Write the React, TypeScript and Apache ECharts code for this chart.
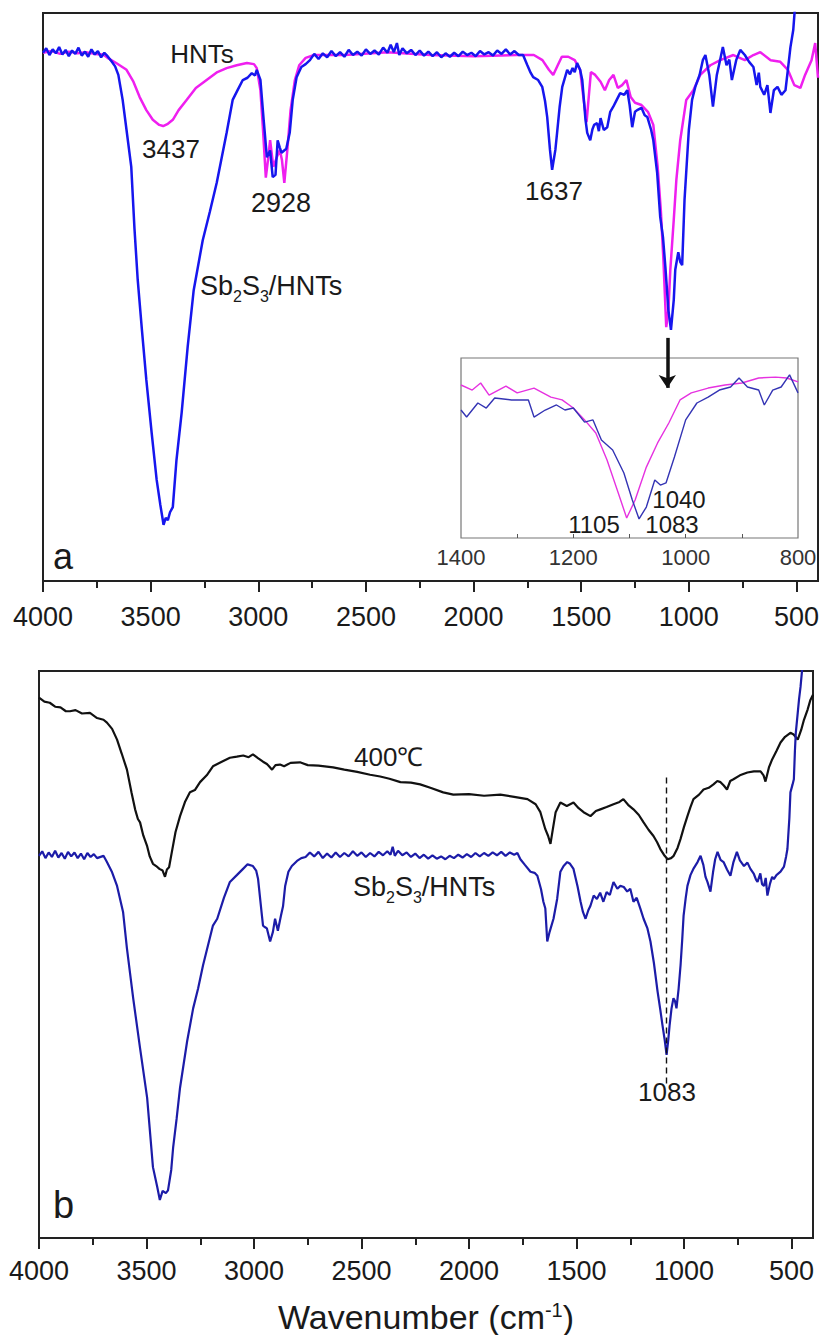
import React, { useEffect, useRef } from "react";
import * as echarts from "echarts";

type P = [number, number];

// ---------- axis ticks ----------
const majorTicks = [500, 1000, 1500, 2000, 2500, 3000, 3500, 4000];
const minorTicks = [750, 1250, 1750, 2250, 2750, 3250, 3750];
const insetTicks = [900, 1000, 1100, 1200, 1300];
const insetLabels = [800, 1000, 1200, 1400];

// ---------- panel a: HNTs (magenta) ----------
const hntsA: P[] = [
  [4000, 93.0], [3960, 93.3], [3920, 92.8], [3880, 93.2], [3840, 92.9], [3800, 93.1], [3760, 92.8], [3720, 92.7],
  [3700, 92.1], [3660, 91.2], [3612, 90.0], [3580, 87.9], [3551, 85.2], [3520, 82.9], [3490, 81.2], [3460, 80.3],
  [3442, 80.1], [3420, 80.5], [3397, 81.2], [3370, 82.9], [3333, 84.7], [3290, 86.8], [3240, 88.2], [3190, 89.6],
  [3147, 90.3], [3100, 90.8], [3053, 91.2], [3020, 91.0], [3007, 90.3], [2990, 86.4], [2978, 79.4], [2965, 71.0],
  [2955, 74.1], [2945, 77.6], [2930, 72.9], [2915, 74.5], [2900, 75.9], [2890, 74.1], [2879, 70.1], [2865, 75.9],
  [2850, 82.9], [2830, 88.2], [2810, 90.8], [2780, 92.1], [2740, 92.6], [2600, 92.6], [2400, 93.1], [2200, 92.6],
  [2000, 92.4], [1800, 92.6], [1720, 92.6], [1680, 91.7], [1650, 90.0], [1630, 89.1], [1610, 90.7], [1590, 92.3],
  [1560, 92.3], [1530, 91.7], [1505, 90.0], [1490, 85.2], [1475, 80.8], [1465, 85.2], [1455, 89.6], [1435, 89.1],
  [1410, 87.9], [1390, 86.4], [1370, 88.2], [1350, 89.1], [1330, 86.8], [1310, 87.3], [1290, 88.2], [1270, 85.2],
  [1250, 84.2], [1220, 83.8], [1190, 82.6], [1165, 80.3], [1145, 73.0], [1130, 65.2], [1118, 56.5], [1105, 44.7],
  [1095, 47.7], [1086, 54.8], [1070, 63.6], [1058, 70.6], [1040, 77.6], [1012, 84.7], [979, 86.4], [947, 89.1],
  [900, 90.8], [854, 91.7], [793, 92.6], [740, 91.7], [700, 92.6], [668, 93.1], [620, 91.7], [575, 91.4],
  [540, 90.0], [510, 87.3], [482, 86.8], [460, 89.1], [430, 91.7], [413, 94.7], [400, 88.6],
];

// ---------- panel a: Sb2S3/HNTs (blue) ----------
const sbHntsA: P[] = [
  [4000, 93.0], [3985, 93.8], [3970, 92.6], [3955, 93.6], [3940, 92.9], [3925, 94.0], [3910, 92.7], [3895, 93.5],
  [3880, 92.4], [3865, 93.4], [3850, 92.8], [3835, 93.9], [3820, 92.5], [3805, 93.2], [3790, 92.3], [3775, 93.6],
  [3760, 92.7], [3745, 93.3], [3730, 92.2], [3715, 93.0], [3700, 92.4], [3680, 91.4], [3665, 90.6], [3650, 89.1],
  [3630, 84.7], [3612, 79.4], [3590, 72.9], [3575, 62.0], [3560, 53.0], [3540, 44.0], [3520, 35.4], [3495, 26.0],
  [3472, 17.8], [3455, 13.4], [3440, 9.9], [3430, 11.1], [3420, 10.7], [3410, 12.1], [3397, 13.0], [3380, 21.3],
  [3356, 29.6], [3328, 41.2], [3300, 51.2], [3258, 60.0], [3225, 65.0], [3193, 70.1], [3170, 74.5], [3147, 78.9],
  [3119, 84.7], [3095, 86.5], [3072, 88.2], [3050, 88.6], [3030, 89.4], [3015, 89.0], [3007, 90.0], [2990, 88.2],
  [2975, 81.2], [2960, 74.6], [2945, 75.8], [2933, 71.1], [2920, 71.5], [2910, 77.6], [2900, 76.3], [2892, 75.4],
  [2870, 76.1], [2854, 78.9], [2840, 84.7], [2822, 88.7], [2800, 90.5], [2780, 91.0], [2760, 91.7], [2740, 92.8],
  [2720, 91.9], [2700, 92.9], [2680, 92.2], [2660, 93.3], [2640, 92.4], [2620, 93.1], [2600, 92.3], [2580, 93.5],
  [2560, 92.6], [2540, 93.2], [2520, 92.5], [2500, 93.6], [2480, 92.8], [2460, 93.4], [2440, 92.7], [2420, 93.9],
  [2400, 93.0], [2385, 94.4], [2370, 93.1], [2356, 94.7], [2345, 92.6], [2330, 93.8], [2310, 92.9], [2290, 93.5],
  [2270, 92.6], [2250, 93.4], [2230, 92.5], [2210, 93.2], [2190, 92.4], [2170, 93.1], [2150, 92.2], [2130, 92.9],
  [2110, 92.3], [2090, 93.0], [2070, 92.4], [2050, 93.2], [2030, 92.6], [2010, 93.0], [1990, 92.4], [1970, 93.3],
  [1950, 92.7], [1930, 93.1], [1910, 92.5], [1890, 93.4], [1870, 92.8], [1850, 93.6], [1830, 92.7], [1810, 93.3],
  [1790, 92.6], [1770, 92.6], [1750, 90.8], [1735, 89.5], [1723, 88.7], [1700, 88.2], [1681, 87.0], [1668, 84.5],
  [1658, 81.7], [1645, 75.9], [1635, 72.4], [1620, 75.9], [1612, 78.9], [1600, 83.5], [1588, 87.0], [1565, 90.0],
  [1552, 89.2], [1540, 90.3], [1530, 89.6], [1519, 91.2], [1505, 90.0], [1495, 88.2], [1480, 81.2], [1472, 78.9],
  [1458, 77.6], [1448, 79.5], [1440, 80.3], [1426, 80.6], [1418, 79.2], [1410, 81.5], [1395, 79.4], [1379, 79.9],
  [1365, 82.6], [1351, 83.5], [1335, 84.7], [1319, 85.9], [1300, 85.6], [1286, 86.4], [1275, 83.8], [1263, 79.9],
  [1250, 82.6], [1240, 82.9], [1220, 83.3], [1205, 82.0], [1193, 81.7], [1175, 79.4], [1165, 77.6], [1147, 71.8],
  [1133, 64.1], [1120, 60.5], [1109, 55.3], [1095, 47.7], [1083, 44.2], [1070, 49.5], [1063, 54.8], [1049, 57.9],
  [1040, 56.2], [1031, 55.6], [1020, 67.1], [1000, 79.4], [985, 84.7], [970, 87.0], [950, 89.1], [935, 91.7],
  [923, 92.6], [905, 89.1], [888, 83.5], [870, 89.1], [855, 91.7], [842, 94.0], [825, 90.8], [812, 91.8],
  [800, 88.2], [780, 91.7], [761, 93.5], [740, 92.6], [720, 91.4], [700, 90.5], [685, 87.3], [675, 89.5],
  [668, 87.0], [650, 85.6], [635, 87.3], [621, 82.4], [605, 86.4], [588, 87.0], [570, 85.6], [551, 86.4],
  [540, 90.0], [528, 94.0], [515, 97.0], [505, 102.0], [495, 110.0],
];

// ---------- inset (1400-800 cm-1) ----------
const hntsInset: P[] = [
  [1400, 85.0], [1380, 82.2], [1365, 86.1], [1350, 79.4], [1320, 84.4], [1300, 80.6], [1270, 83.3], [1240, 78.3],
  [1220, 76.7], [1200, 72.2], [1180, 65.6], [1160, 58.3], [1140, 43.3], [1120, 25.0], [1105, 11.1], [1090, 21.1],
  [1070, 39.4], [1050, 52.8], [1030, 63.9], [1010, 76.7], [990, 80.6], [960, 83.3], [930, 85.0], [900, 86.1],
  [870, 88.9], [840, 89.4], [820, 88.9], [800, 86.7],
];
const sbHntsInset: P[] = [
  [1400, 71.1], [1390, 67.2], [1370, 75.0], [1355, 72.2], [1340, 77.8], [1310, 76.7], [1280, 76.7], [1270, 67.2],
  [1250, 71.1], [1230, 73.9], [1215, 71.1], [1200, 72.2], [1180, 64.4], [1165, 65.6], [1150, 54.4], [1130, 48.9],
  [1110, 36.1], [1095, 21.1], [1083, 10.6], [1070, 17.2], [1055, 32.2], [1045, 29.4], [1035, 30.6], [1020, 45.0],
  [1000, 65.6], [980, 75.0], [960, 78.3], [940, 82.2], [920, 83.9], [905, 88.9], [890, 83.9], [870, 82.2],
  [860, 73.9], [845, 82.2], [830, 83.9], [815, 90.6], [800, 80.6],
];

// ---------- panel b: 400 °C (black) ----------
const calcined400: P[] = [
  [4000, 95.3], [3975, 94.6], [3950, 94.4], [3925, 93.7], [3900, 93.6], [3875, 92.9], [3856, 92.9], [3830, 93.1],
  [3800, 92.5], [3763, 92.6], [3730, 91.7], [3700, 91.4], [3684, 90.9], [3660, 89.8], [3637, 87.9], [3615, 85.4],
  [3591, 82.6], [3570, 78.6], [3553, 75.6], [3540, 73.9], [3530, 73.3], [3515, 71.0], [3497, 69.1], [3485, 67.3],
  [3470, 66.0], [3455, 65.6], [3440, 65.1], [3425, 64.8], [3414, 63.7], [3405, 65.0], [3395, 65.4], [3382, 68.1],
  [3365, 71.6], [3344, 74.4], [3320, 77.0], [3298, 78.6], [3275, 79.0], [3251, 80.4], [3220, 81.6], [3191, 83.2],
  [3150, 84.0], [3112, 84.7], [3080, 84.9], [3050, 85.1], [3025, 84.8], [3005, 85.3], [2980, 84.6], [2958, 84.0],
  [2940, 83.6], [2930, 83.2], [2916, 82.6], [2900, 83.4], [2879, 83.5], [2860, 83.2], [2830, 83.8], [2786, 83.9],
  [2750, 83.4], [2700, 83.3], [2632, 83.0], [2580, 82.6], [2520, 82.2], [2460, 81.7], [2413, 81.4], [2370, 81.0],
  [2319, 80.4], [2270, 80.3], [2227, 80.0], [2180, 79.4], [2120, 78.6], [2073, 78.2], [2000, 78.3], [1930, 78.0],
  [1854, 78.2], [1790, 77.8], [1728, 77.4], [1690, 76.5], [1668, 75.1], [1645, 72.1], [1632, 70.9], [1621, 69.5],
  [1610, 72.1], [1597, 75.1], [1575, 76.8], [1545, 76.2], [1514, 76.8], [1490, 75.8], [1467, 75.1], [1435, 74.4],
  [1410, 75.3], [1389, 75.6], [1360, 76.0], [1328, 76.5], [1300, 76.9], [1282, 77.4], [1260, 76.4], [1235, 75.6],
  [1210, 74.6], [1188, 73.3], [1165, 72.0], [1142, 70.9], [1125, 69.8], [1110, 68.6], [1090, 67.4], [1076, 66.8],
  [1060, 67.0], [1048, 67.4], [1030, 68.8], [1016, 70.4], [1000, 72.5], [984, 74.4], [970, 76.0], [956, 77.4],
  [930, 78.2], [909, 79.1], [885, 79.4], [863, 80.0], [845, 80.6], [830, 80.4], [815, 79.8], [800, 79.1],
  [785, 80.6], [770, 80.9], [740, 81.6], [705, 82.1], [675, 82.3], [644, 82.3], [630, 81.6], [621, 80.5],
  [605, 83.0], [590, 84.4], [570, 85.9], [551, 87.4], [530, 88.4], [505, 89.1], [490, 88.8], [471, 87.9],
  [455, 89.6], [442, 91.4], [425, 93.2], [412, 94.9], [400, 95.8],
];

// ---------- panel b: Sb2S3/HNTs (navy) ----------
const sbHntsB: P[] = [
  [4000, 67.4], [3985, 68.2], [3970, 67.0], [3955, 68.0], [3940, 67.2], [3925, 68.3], [3910, 67.1], [3895, 67.9],
  [3880, 66.9], [3865, 68.1], [3850, 67.3], [3835, 68.0], [3820, 67.0], [3805, 67.8], [3790, 66.8], [3775, 67.9],
  [3760, 67.2], [3745, 67.7], [3730, 67.0], [3700, 67.4], [3684, 66.3], [3660, 64.5], [3637, 62.1], [3609, 57.5],
  [3591, 51.1], [3562, 42.3], [3530, 33.5], [3497, 24.7], [3470, 12.5], [3450, 9.0], [3438, 6.7], [3425, 8.3],
  [3410, 7.9], [3400, 8.4], [3385, 12.0], [3376, 16.0], [3360, 21.0], [3344, 26.5], [3311, 34.7], [3283, 40.5],
  [3260, 44.0], [3237, 48.1], [3191, 55.1], [3171, 56.3], [3140, 60.0], [3112, 62.8], [3080, 64.0], [3051, 65.1],
  [3030, 65.9], [3005, 65.6], [2990, 64.8], [2981, 63.3], [2963, 56.8], [2958, 55.1], [2948, 54.8], [2940, 54.6],
  [2925, 52.3], [2912, 54.0], [2902, 56.3], [2889, 54.2], [2875, 56.8], [2865, 58.5], [2855, 62.1], [2840, 64.6],
  [2824, 65.6], [2800, 66.5], [2780, 67.0], [2760, 67.2], [2740, 68.0], [2720, 67.3], [2700, 68.1], [2680, 67.0],
  [2660, 67.8], [2640, 67.1], [2620, 68.0], [2600, 67.2], [2580, 67.9], [2560, 67.3], [2540, 68.2], [2520, 67.4],
  [2500, 68.0], [2480, 67.2], [2460, 67.9], [2440, 67.3], [2420, 68.1], [2400, 67.5], [2380, 68.2], [2365, 67.6],
  [2355, 69.0], [2345, 67.4], [2330, 68.3], [2310, 67.5], [2290, 68.0], [2270, 67.2], [2250, 67.8], [2230, 67.0],
  [2210, 67.6], [2190, 66.9], [2170, 67.5], [2150, 66.9], [2130, 67.3], [2110, 66.8], [2090, 67.4], [2070, 67.0],
  [2050, 67.6], [2030, 67.1], [2010, 67.7], [1990, 67.2], [1970, 67.9], [1950, 67.3], [1930, 67.9], [1910, 67.4],
  [1890, 68.0], [1870, 67.5], [1850, 68.1], [1830, 67.4], [1810, 68.0], [1790, 67.6], [1775, 67.9], [1761, 66.8],
  [1740, 65.8], [1714, 64.6], [1695, 64.4], [1682, 63.9], [1665, 61.5], [1654, 59.3], [1645, 58.1], [1636, 52.3],
  [1625, 54.0], [1607, 56.3], [1590, 59.8], [1575, 64.6], [1560, 65.6], [1543, 66.3], [1530, 66.0], [1514, 65.1],
  [1495, 62.0], [1481, 59.3], [1470, 57.5], [1458, 56.3], [1445, 57.8], [1435, 58.6], [1420, 60.4], [1405, 59.8],
  [1390, 60.9], [1375, 59.3], [1360, 61.0], [1345, 60.5], [1328, 62.8], [1310, 61.6], [1296, 62.1], [1280, 61.9],
  [1264, 61.1], [1250, 61.6], [1235, 59.3], [1220, 60.0], [1203, 58.1], [1188, 56.3], [1170, 54.6], [1156, 52.3],
  [1140, 48.5], [1123, 43.5], [1110, 40.2], [1100, 37.5], [1090, 35.0], [1081, 32.3], [1073, 35.0], [1067, 37.5],
  [1058, 40.5], [1049, 42.3], [1042, 41.8], [1035, 40.5], [1025, 44.0], [1016, 48.1], [1008, 52.8], [1002, 56.8],
  [992, 60.0], [984, 62.1], [970, 64.0], [955, 65.2], [937, 66.3], [923, 67.4], [910, 65.8], [900, 63.7],
  [891, 62.8], [877, 61.1], [865, 64.5], [855, 66.8], [844, 68.1], [830, 66.7], [816, 66.3], [800, 65.0],
  [784, 63.9], [770, 66.3], [754, 68.1], [740, 66.6], [721, 65.6], [705, 66.2], [691, 65.1], [675, 64.2],
  [665, 63.2], [658, 62.8], [645, 64.3], [637, 62.4], [628, 62.1], [620, 63.5], [612, 60.4], [600, 62.5],
  [590, 63.7], [582, 63.3], [570, 64.0], [551, 64.6], [535, 65.5], [525, 67.3], [519, 68.6], [510, 74.0],
  [505, 78.6], [495, 80.0], [489, 80.9], [484, 86.0], [480, 89.1], [471, 92.6], [465, 95.0], [458, 97.2],
  [450, 100.5], [440, 104.0],
];

// ---------- annotation anchors (data units) ----------
const arrowWn = 1100;
const arrowFrom = 42.8;
const arrowTo = 34.0;
const dashWn = 1083;
const dashFrom = 81.2;
const dashTo = 26.8;

const FONT = '"Liberation Sans", Arial, Helvetica, sans-serif';
const INK = "#1a1a1a";

function txt(x: number, y: number, text: string, size: number, align = "center", rich?: any) {
  return {
    type: "text",
    x,
    y,
    silent: true,
    z: 50,
    style: {
      text,
      fill: INK,
      fontSize: size,
      fontFamily: FONT,
      align,
      textAlign: align,
      verticalAlign: "middle",
      textVerticalAlign: "middle",
      rich,
    },
  };
}

const subRich = {
  s: { fontSize: 16, fontFamily: FONT, fill: INK, color: INK, verticalAlign: "bottom", padding: [20, 0, 0, 0] },
};

const plainNum = (v: number) => String(v);

export default function App() {
  const ref = useRef<HTMLDivElement>(null);

  useEffect(() => {
    document.body.style.margin = "0";
    if (!ref.current) return;
    const chart = echarts.init(ref.current, undefined, { renderer: "svg" });

    const mainX = (gridIndex: number, major: boolean, margin: number) => ({
      type: "value",
      gridIndex,
      position: "bottom",
      min: 400,
      max: 4000,
      inverse: true,
      axisLine: { show: false },
      splitLine: { show: false },
      axisTick: {
        show: true,
        inside: false,
        customValues: major ? majorTicks : minorTicks,
        length: major ? 11 : 7,
        lineStyle: { color: "#222", width: 2 },
      },
      axisLabel: major
        ? { show: true, customValues: majorTicks, formatter: plainNum, fontSize: 27, fontFamily: FONT, color: INK, margin }
        : { show: false },
    });

    const option: any = {
      animation: false,
      backgroundColor: "#ffffff",
      grid: [
        { left: 43, right: 5, top: 13, height: 568, show: true, borderWidth: 2, borderColor: "#222", backgroundColor: "transparent" },
        { left: 39, right: 10, top: 671, height: 570, show: true, borderWidth: 2, borderColor: "#222", backgroundColor: "transparent" },
        { left: 461, top: 358, width: 337, height: 180, show: true, borderWidth: 1.2, borderColor: "#777", backgroundColor: "transparent" },
      ],
      xAxis: [
        mainX(0, true, 22),
        mainX(0, false, 22),
        {
          ...mainX(1, true, 19),
          name: "Wavenumber (cm{sup|-1})",
          nameLocation: "middle",
          nameGap: 62,
          nameTextStyle: {
            fontSize: 34,
            fontFamily: FONT,
            color: INK,
            rich: { sup: { fontSize: 20, fontFamily: FONT, color: INK, verticalAlign: "top" } },
          },
        },
        mainX(1, false, 19),
        {
          type: "value",
          gridIndex: 2,
          position: "bottom",
          min: 800,
          max: 1400,
          inverse: true,
          axisLine: { show: false },
          splitLine: { show: false },
          axisTick: { show: true, inside: true, customValues: insetTicks, length: 4, lineStyle: { color: "#555", width: 1 } },
          axisLabel: { customValues: insetLabels, formatter: plainNum, fontSize: 22, fontFamily: FONT, color: "#333", margin: 8 },
        },
      ],
      yAxis: [
        { type: "value", gridIndex: 0, min: 0, max: 100, show: false },
        { type: "value", gridIndex: 1, min: 0, max: 100, show: false },
        { type: "value", gridIndex: 2, min: 0, max: 100, show: false },
      ],
      series: [
        {
          type: "line",
          name: "HNTs",
          xAxisIndex: 0,
          yAxisIndex: 0,
          data: hntsA,
          showSymbol: false,
          clip: true,
          z: 2,
          lineStyle: { color: "#ef1fef", width: 2.5 },
          itemStyle: { color: "#ef1fef" },
        },
        {
          type: "line",
          name: "Sb2S3/HNTs",
          xAxisIndex: 0,
          yAxisIndex: 0,
          data: sbHntsA,
          showSymbol: false,
          clip: true,
          z: 3,
          lineStyle: { color: "#1616ee", width: 2.5 },
          itemStyle: { color: "#1616ee" },
          markLine: {
            silent: true,
            symbol: ["none", "arrow"],
            symbolSize: 13,
            label: { show: false },
            lineStyle: { color: "#111", width: 3.5, type: "solid" },
            itemStyle: { color: "#111" },
            data: [[{ coord: [arrowWn, arrowFrom] }, { coord: [arrowWn, arrowTo] }]],
          },
        },
        {
          type: "line",
          name: "HNTs inset",
          xAxisIndex: 4,
          yAxisIndex: 2,
          data: hntsInset,
          showSymbol: false,
          clip: true,
          z: 4,
          lineStyle: { color: "#e632e0", width: 1.4 },
          itemStyle: { color: "#e632e0" },
        },
        {
          type: "line",
          name: "Sb2S3/HNTs inset",
          xAxisIndex: 4,
          yAxisIndex: 2,
          data: sbHntsInset,
          showSymbol: false,
          clip: true,
          z: 5,
          lineStyle: { color: "#3434b4", width: 1.4 },
          itemStyle: { color: "#3434b4" },
        },
        {
          type: "line",
          name: "400 °C",
          xAxisIndex: 2,
          yAxisIndex: 1,
          data: calcined400,
          showSymbol: false,
          clip: true,
          z: 2,
          lineStyle: { color: "#111111", width: 2.2 },
          itemStyle: { color: "#111111" },
        },
        {
          type: "line",
          name: "Sb2S3/HNTs b",
          xAxisIndex: 2,
          yAxisIndex: 1,
          data: sbHntsB,
          showSymbol: false,
          clip: true,
          z: 3,
          lineStyle: { color: "#1c1ca8", width: 2.2 },
          itemStyle: { color: "#1c1ca8" },
          markLine: {
            silent: true,
            symbol: ["none", "none"],
            label: { show: false },
            lineStyle: { color: "#111", width: 1.4, type: [6, 4] },
            data: [[{ coord: [dashWn, dashFrom] }, { coord: [dashWn, dashTo] }]],
          },
        },
      ],
      graphic: [
        txt(202, 54, "HNTs", 26),
        txt(171, 149, "3437", 26),
        txt(281, 203, "2928", 27),
        txt(200, 286, "Sb{s|2}S{s|3}/HNTs", 27, "left", subRich),
        txt(554, 191, "1637", 26),
        txt(53, 556, "a", 36, "left"),
        txt(679, 499, "1040", 24),
        txt(594, 524, "1105", 24),
        txt(672, 524, "1083", 24),
        txt(354, 757, "400℃", 26, "left"),
        txt(353, 887, "Sb{s|2}S{s|3}/HNTs", 27, "left", subRich),
        txt(667, 1092, "1083", 26),
        txt(53, 1205, "b", 38, "left"),
      ],
    };

    chart.setOption(option);
    return () => chart.dispose();
  }, []);

  return <div ref={ref} style={{ width: 823, height: 1335 }} />;
}
